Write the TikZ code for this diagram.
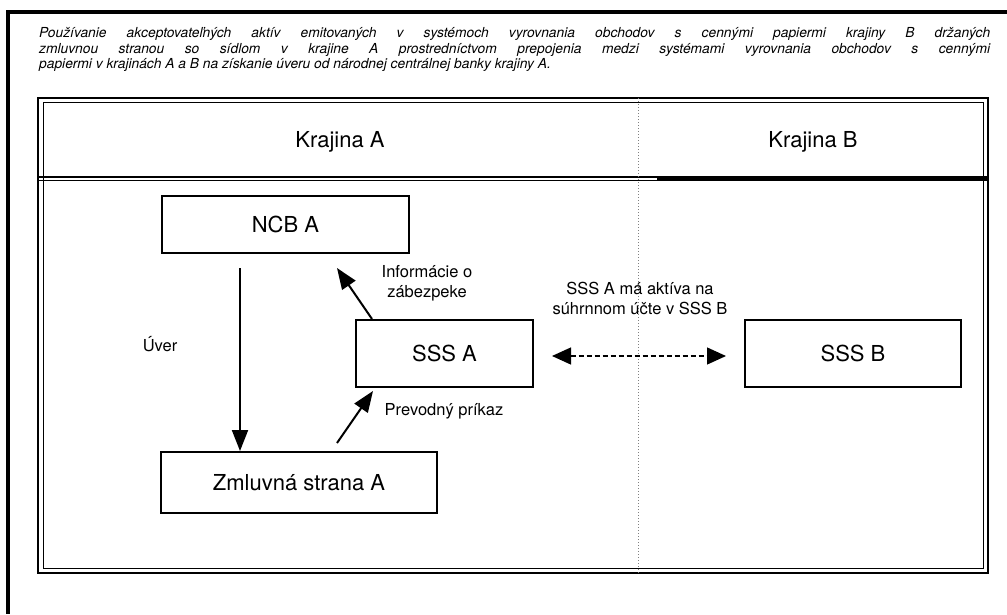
\documentclass[tikz,border=0pt]{standalone}
\usepackage{fontspec}
\setmainfont{TeX Gyre Heros}
\usetikzlibrary{arrows.meta}
\tikzset{
    box/.style={draw,line width=2pt,inner sep=0pt,font=\fontsize{22}{26}\selectfont},
    lbl/.style={align=center,inner sep=0pt,font=\fontsize{16.5}{20}\selectfont},
    arr/.style={line width=2pt,-{Triangle[length=21pt,width=16pt]}},
    dasharr/.style={line width=1.3pt,dash pattern=on 5pt off 3pt,
        {Triangle[length=19pt,width=17pt]}-{Triangle[length=19pt,width=17pt]}},
}
\begin{document}
\begin{tikzpicture}[x=1pt,y=-1pt]
                \useasboundingbox (0,0) rectangle (1007,614);
                %% outer frame (top and left only)
                \draw[line width=3.2pt] (1007,12) -- (8,12) -- (8,614);
                %% title
                \node[anchor=base west,text width=951pt,align=justify,inner sep=0pt,
                    font=\itshape\fontsize{13.8}{15.6}\selectfont] (title) at (39,37.5)
                    {Používanie akceptovateľných aktív emitovaných v systémoch vyrovnania obchodov s cennými papiermi krajiny B držaných\linebreak
                     zmluvnou stranou so sídlom v krajine A prostredníctvom prepojenia medzi systémami vyrovnania obchodov s cennými\linebreak
                     papiermi v krajinách A a B na získanie úveru od národnej centrálnej banky krajiny A.};
                %% double frame
                \draw[line width=2.2pt] (38,98) rectangle (988,573);
                \draw[line width=1pt] (43,102.5) rectangle (983,568.5);
                \draw[line width=1.2pt] (38,177) -- (988,177);
                \draw[line width=1.6pt] (38,180.5) -- (988,180.5);
                \draw[line width=3.4pt] (657,179) -- (988,179);
                \draw[gray,dotted,line width=1pt] (638,98) -- (638,573);
                %% countries
                \node[font=\fontsize{22}{26}\selectfont] (kra) at (340,142) {Krajina A};
                \node[font=\fontsize{22}{26}\selectfont] (krb) at (813,142) {Krajina B};
                %% boxes
                \node[box,minimum width=247pt,minimum height=57pt] (ncb) at (285.5,224.5) {NCB A};
                \node[box,minimum width=177pt,minimum height=67pt] (sssa) at (444.5,353.5) {SSS A};
                \node[box,minimum width=216pt,minimum height=67pt] (sssb) at (853,353.5) {SSS B};
                \node[box,minimum width=276pt,minimum height=61pt] (zml) at (299,482.5) {Zmluvná strana A};
                %% arrows
                \draw[arr] ([xshift=79pt,yshift=-14pt]ncb.south west) -- ([xshift=80pt]zml.north west);
                \draw[arr] ([xshift=17pt]sssa.north west) -- ([xshift=176pt,yshift=-14pt]ncb.south west);
                \draw[arr] ([xshift=177pt,yshift=8pt]zml.north west) -- ([xshift=18pt,yshift=-3pt]sssa.south west);
                \draw[dasharr,shorten <=18pt,shorten >=18pt] ([yshift=-2.5pt]sssa.east) -- ([yshift=-2.5pt]sssb.west);
                %% labels
                \node[lbl] (uver) at (160,344) {Úver};
                \node[lbl] (info) at (427,283) {Informácie o\\zábezpeke};
                \node[lbl] (prev) at (444,411) {Prevodný príkaz};
                \node[lbl] (akt) at (640,298) {SSS A má aktíva na\\súhrnnom účte v SSS B};
\end{tikzpicture}
\end{document}
